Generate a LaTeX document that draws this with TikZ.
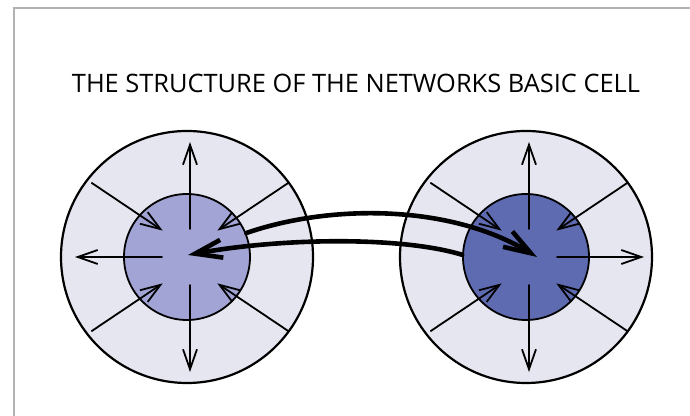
\documentclass[tikz,border=0pt]{standalone}
\usepackage{fontspec}
\setmainfont{Open Sans}
\usetikzlibrary{arrows.meta}

\definecolor{cellbg}{RGB}{230,230,240}
\definecolor{corelight}{RGB}{161,164,212}
\definecolor{coredark}{RGB}{95,107,177}

\begin{document}
\begin{tikzpicture}[
    x=0.5pt, y=0.5pt,
    line cap=round,
    frame/.style={draw=gray!60, line width=0.6pt},
    outer/.style={circle, draw=black, fill=cellbg, line width=1.1pt, minimum size=126pt, inner sep=0pt},
    core/.style={circle, draw=black, line width=0.9pt, minimum size=63pt, inner sep=0pt},
    spoke/.style={draw=black, line width=0.9pt, -{Straight Barb[length=10pt,width=7pt]}},
    link/.style={draw=black, line width=2.3pt, -{Straight Barb[length=13.5pt,width=9pt]}}
]
\useasboundingbox (0,0) rectangle (690,416);
\draw[frame] (14,0) |- (690,408);

\node[font=\fontsize{12.7}{15}\selectfont] (title) at (356,333) {THE STRUCTURE OF THE NETWORKS BASIC CELL};

% left cell
\node[outer] (Lout) at (187,159) {};
\node[core, fill=corelight] (Lin) at (187,159) {};
\begin{scope}[shift={(190,159)}]
  \foreach \a in {90,180,270}
    \draw[spoke] (\a:28) -- (\a:115);
  \foreach \a/\b in {37/44, 143/136, 217/224, 323/316}
    \draw[spoke] (\a:123) -- (\b:38);
\end{scope}

% right cell
\node[outer] (Rout) at (526,159) {};
\node[core, fill=coredark] (Rin) at (526,159) {};
\begin{scope}[shift={(529,159)}]
  \foreach \a in {0,90,270}
    \draw[spoke] (\a:28) -- (\a:115);
  \foreach \a/\b in {37/44, 143/136, 217/224, 323/316}
    \draw[spoke] (\a:123) -- (\b:38);
\end{scope}

% links between the two cells
\coordinate (Rtip) at (537,159);
\coordinate (Ltip) at (188,161);
\draw[link] (Lin.22) .. controls (330,212) and (450,212) .. (Rtip);
\draw[link] (Rin.178) .. controls (400,180) and (280,178) .. (Ltip);
\end{tikzpicture}
\end{document}
